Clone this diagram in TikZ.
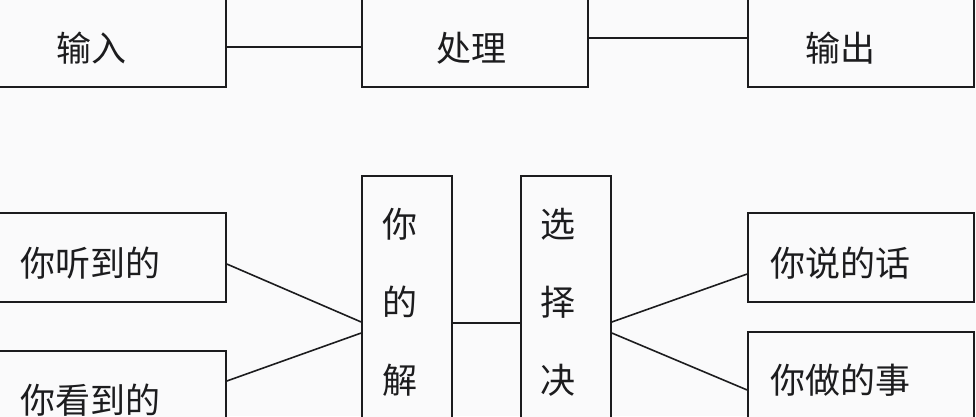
\documentclass[tikz,border=0pt]{standalone}
\usepackage{fontspec}
\newfontfamily\cjk{Noto Sans CJK SC}
\definecolor{bgc}{RGB}{250,250,251}
\definecolor{ink}{RGB}{28,28,30}
\begin{document}
\begin{tikzpicture}[x=1pt,y=-1pt,
  boxn/.style={draw=ink, line width=1.6pt, fill=bgc, rectangle, inner sep=0pt},
  lbl/.style={inner sep=0pt, anchor=base west, text=ink, font=\cjk\fontsize{35}{40}\selectfont},
  vlbl/.style={inner sep=0pt, anchor=base, text=ink, font=\cjk\fontsize{35}{40}\selectfont},
  conn/.style={draw=ink, line width=1.6pt}]
\useasboundingbox (0,0) rectangle (976,416);
\fill[bgc] (0,0) rectangle (976,416);
\clip (0,0) rectangle (976,416);
% boxes (x1,y1)-(x2,y2) -> center, size
\node[boxn, minimum width=228pt, minimum height=127pt] (in)   at (112,23.5) {};
\node[boxn, minimum width=226pt, minimum height=127pt] (proc) at (475,23.5) {};
\node[boxn, minimum width=226pt, minimum height=127pt] (out)  at (861,23.5) {};
\node[boxn, minimum width=228pt, minimum height=89pt]  (hear) at (112,257.5) {};
\node[boxn, minimum width=228pt, minimum height=109pt] (see)  at (112,405.5) {};
\node[boxn, minimum width=90pt,  minimum height=304pt] (und)  at (407,328) {};
\node[boxn, minimum width=90pt,  minimum height=304pt] (dec)  at (566,328) {};
\node[boxn, minimum width=226pt, minimum height=89pt]  (say)  at (861,257.5) {};
\node[boxn, minimum width=226pt, minimum height=108pt] (do)   at (861,386) {};
% labels
\node[lbl] (tin)   at (56,61)  {输入};
\node[lbl] (tproc) at (436,61) {处理};
\node[lbl] (tout)  at (805,61) {输出};
\node[lbl] (thear) at (20,276) {你听到的};
\node[lbl] (tsee)  at (20,413) {你看到的};
\node[lbl] (tsay)  at (770,276) {你说的话};
\node[lbl] (tdo)   at (770,393) {你做的事};
\node[vlbl] (u1) at (400,237) {你};
\node[vlbl] (u2) at (400,315) {的};
\node[vlbl] (u3) at (400,393) {解};
\node[vlbl] (d1) at (558,237) {选};
\node[vlbl] (d2) at (558,315) {择};
\node[vlbl] (d3) at (558,393) {决};
% connector heights
\coordinate (h47)  at (0,47);
\coordinate (h38)  at (0,38);
\coordinate (h264) at (0,264);
\coordinate (h322) at (0,322);
\coordinate (h381) at (0,381);
\coordinate (h333) at (0,333);
\coordinate (h323) at (0,323);
\coordinate (h274) at (0,274);
\coordinate (h390) at (0,390);
\draw[conn] (in.east |- h47) -- (proc.west |- h47);
\draw[conn] (proc.east |- h38) -- (out.west |- h38);
\draw[conn] (hear.east |- h264) -- (und.west |- h322);
\draw[conn] (see.east |- h381) -- (und.west |- h333);
\draw[conn] (und.east |- h323) -- (dec.west |- h323);
\draw[conn] (dec.east |- h322) -- (say.west |- h274);
\draw[conn] (dec.east |- h333) -- (do.west |- h390);
\end{tikzpicture}
\end{document}
